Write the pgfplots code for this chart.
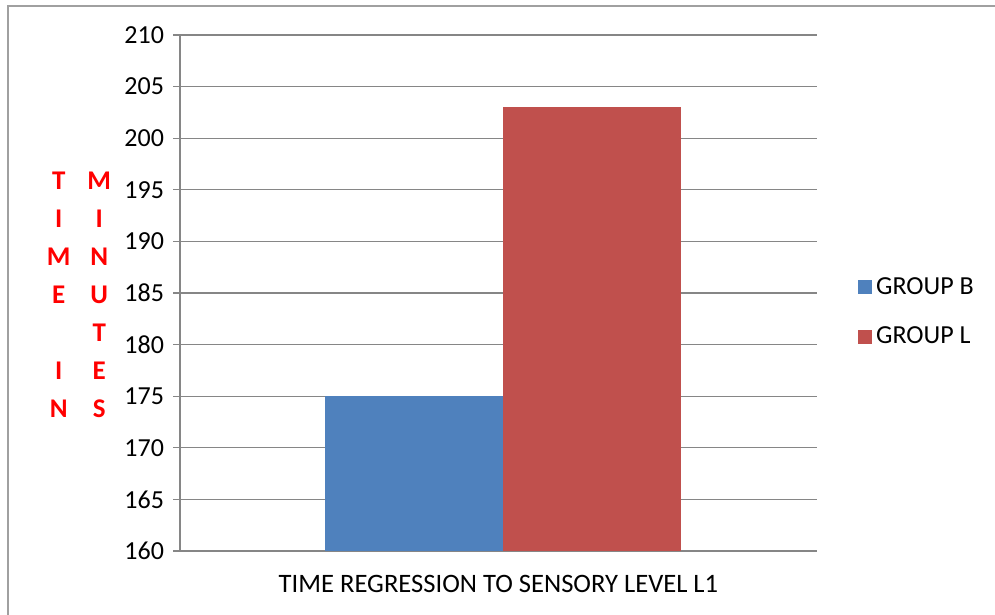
\documentclass[border=0pt]{standalone}
\usepackage{pgfplots}
\pgfplotsset{compat=1.18}
\usepackage{fontspec}
\setmainfont{Carlito}
\definecolor{barblue}{HTML}{4F81BD}
\definecolor{barred}{HTML}{C0504D}
\definecolor{gridgray}{HTML}{868686}
\definecolor{framegray}{HTML}{A0A0A0}
\begin{document}
\begin{tikzpicture}
\useasboundingbox (0pt,0pt) rectangle (497.5pt,307.5pt);
\fill[white] (0pt,0pt) rectangle (497.5pt,307.5pt);
% outer chart frame
\draw[framegray, line width=1pt] (3.75pt,0pt) -- (3.75pt,304.25pt) -- (497.5pt,304.25pt);
\begin{axis}[
  at={(90pt,32pt)}, anchor=south west,
  scale only axis, width=318.5pt, height=258pt,
  ybar, bar width=89pt, ybar=0pt,
  xmin=-1, xmax=0.97,
  ymin=160, ymax=210, ytick distance=5,
  xtick=\empty,
  axis lines*=left,
  axis line style={gridgray, line width=0.6pt},
  ymajorgrids, grid style={gridgray, line width=0.6pt},
  ytick style={gridgray, line width=0.6pt},
  tick align=outside, major tick length=3.5pt,
  /pgf/number format/assume math mode=true,
  tick label style={font=\fontsize{13}{15}\selectfont},
  yticklabel style={xshift=-1pt},
  xlabel={TIME REGRESSION TO SENSORY LEVEL L1},
  xlabel style={font=\fontsize{13.3}{15}\selectfont, yshift=-5pt},
  legend style={draw=none, fill=none, at={(1.064,0.463)}, anchor=west,
    font=\fontsize{13}{15}\selectfont, inner sep=0pt, row sep=11pt,
    /tikz/every even column/.append style={column sep=4pt}},
  legend cell align=left,
  legend image code/.code={\fill[#1] (0pt,-3.5pt) rectangle (7pt,3.5pt);},
]
\addplot[fill=barblue, draw=none] coordinates {(0,175)};
\addplot[fill=barred, draw=none] coordinates {(0,203)};
\legend{GROUP B, GROUP L}
\end{axis}
% vertical axis title, letters stacked in two columns
\node[text=red, font=\bfseries\fontsize{13.5}{19}\selectfont, inner sep=0pt] at (39.5pt,159.5pt) {%
  \begin{tabular}{@{}c@{\hspace{8.5pt}}c@{}}
  T & M\\ I & I\\ M & N\\ E & U\\ & T\\ I & E\\ N & S
  \end{tabular}};
\end{tikzpicture}
\end{document}
